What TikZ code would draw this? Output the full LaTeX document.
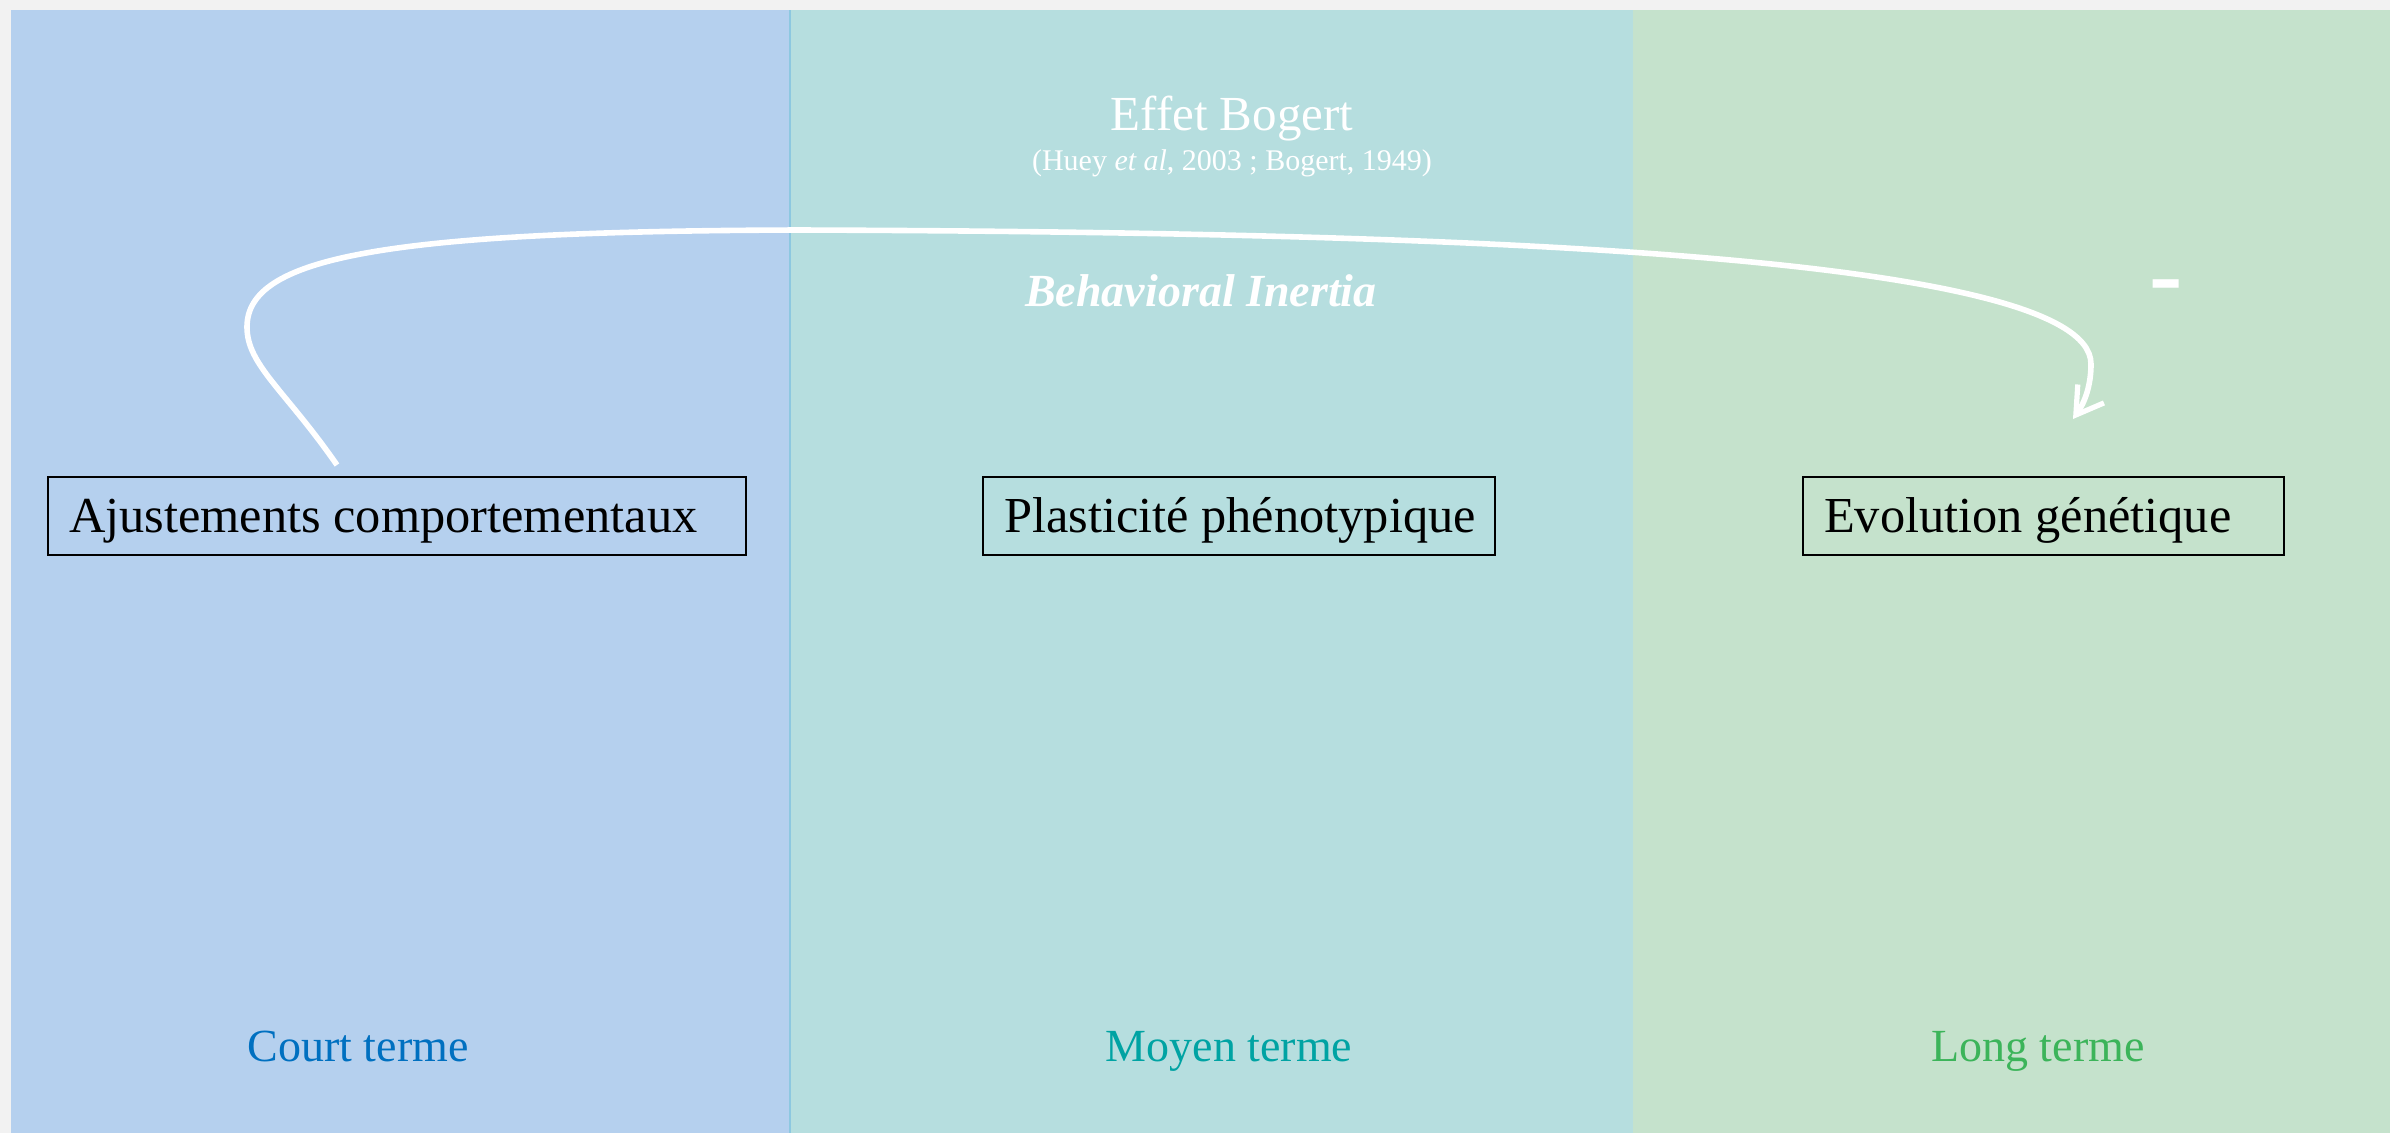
\documentclass[tikz,border=0pt]{standalone}
\usepackage{fontspec}
\setmainfont{Liberation Serif}
\usetikzlibrary{arrows.meta}
\definecolor{bgray}{HTML}{F2F2F2}
\definecolor{pblue}{HTML}{B5D0EE}
\definecolor{pteal}{HTML}{B6DEDF}
\definecolor{pgreen}{HTML}{C5E2CC}
\definecolor{sepline}{HTML}{8DC8E0}
\definecolor{courtc}{HTML}{0070C0}
\definecolor{moyenc}{HTML}{00A3A3}
\definecolor{longc}{HTML}{3CB45A}
\begin{document}
\begin{tikzpicture}[x=0.5pt,y=-0.5pt,
  boxnode/.style={draw=black, line width=0.75pt, minimum height=39pt, inner xsep=10.5pt, inner ysep=0pt,
    text height=22pt, text depth=6pt, align=flush left, text=black, font=\fontsize{25.2}{30}\selectfont},
  whitelabel/.style={anchor=base, text=white, inner sep=0pt},
  termlabel/.style={anchor=base, inner sep=0pt, font=\fontsize{23}{28}\selectfont},
  curvearrow/.style={draw=white, line width=2.8pt, -{Straight Barb[length=13pt,width=16pt,line width=2.6pt]}}]
\useasboundingbox (0,0) rectangle (2390,1132);
\fill[bgray] (-10,-10) rectangle (2400,1142);
\fill[pblue] (11,10) rectangle (790,1142);
\fill[pteal] (790,10) rectangle (1633,1142);
\fill[pgreen] (1633,10) rectangle (2400,1142);
\draw[sepline, line width=0.8pt] (790,10) -- (790,1142);

\node[boxnode, text width=328pt] (ajust) at (397,516) {\mbox{Ajustements comportementaux}};
\node[boxnode, text width=235pt] (plast) at (1239,516) {\mbox{Plasticité phénotypique}};
\node[boxnode, text width=219.5pt] (evol) at (2043.5,516) {\mbox{Evolution génétique}};

\node[whitelabel, font=\fontsize{24.5}{29}\selectfont] (titre) at (1232,130) {Effet Bogert};
\node[whitelabel, font=\fontsize{15}{18}\selectfont] (ref) at (1232,170) {(Huey \textit{et al}, 2003 ; Bogert, 1949)};
\node[whitelabel, font=\fontsize{23}{28}\selectfont\bfseries\itshape] (inertia) at (1201,306) {Behavioral Inertia};
\node[whitelabel, font=\fontsize{50}{60}\selectfont\bfseries] (moins) at (2166,307) {-};

\node[termlabel, text=courtc] (court) at (358,1061) {Court terme};
\node[termlabel, text=moyenc] (moyen) at (1229,1061) {Moyen terme};
\node[termlabel, text=longc] (long) at (2038,1061) {Long terme};

\coordinate (cs) at (337,465);
\coordinate (ce) at (2073,419);
\draw[curvearrow] (cs) .. controls (285,390) and (247,365) .. (247,327)
  .. controls (247,258) and (380,231) .. (800,230)
  .. controls (1400,232) and (2091,250) .. (2091,364)
  .. controls (2091,385) and (2085,402) .. (ce);
\end{tikzpicture}
\end{document}
